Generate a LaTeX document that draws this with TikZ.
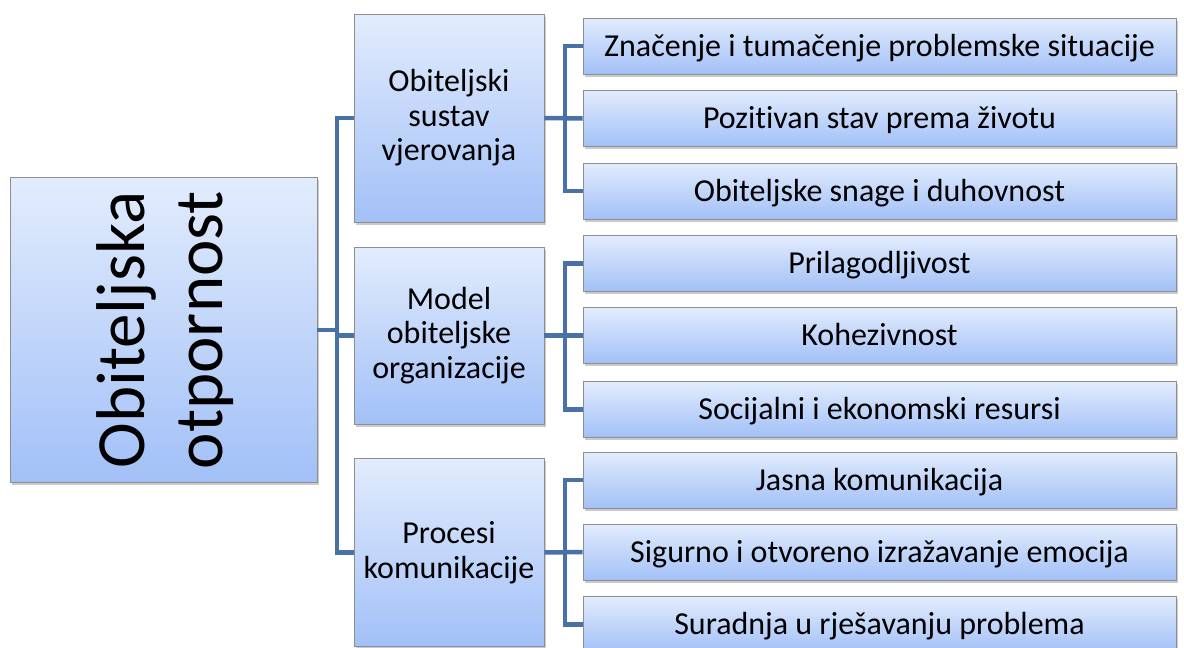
\documentclass[tikz,border=0pt]{standalone}
\usepackage{fontspec}
\setmainfont{Carlito}[Ligatures=NoCommon]
\usetikzlibrary{shadows}
\definecolor{linkc}{HTML}{4A70A8}
\definecolor{topc}{HTML}{E2ECFD}
\definecolor{botc}{HTML}{A2C0F7}
\definecolor{edgec}{HTML}{8E8E8E}
\tikzset{
  boxbase/.style={draw=edgec, line width=0.8pt, top color=topc, bottom color=botc,
    inner sep=0pt, align=center, text=black,
    drop shadow={shadow xshift=1.5pt, shadow yshift=-2.5pt, opacity=0.35, fill=black!60}},
  rootbox/.style={boxbase, minimum width=307pt, minimum height=305pt},
  midbox/.style={boxbase, minimum width=190pt, font=\fontsize{32}{34.5}\selectfont},
  leafbox/.style={boxbase, minimum width=593pt, minimum height=56pt, text height=20.6pt, text depth=0pt, font=\fontsize{32}{34}\selectfont},
  link/.style={draw=linkc, line width=4.5pt, line cap=butt, line join=miter}
}
\begin{document}
\begin{tikzpicture}[x=1pt, y=-1pt]
\useasboundingbox (0,0) rectangle (1184,648);
% root
\node[rootbox] (root) at (163.5,329.5) {};
\node[rotate=90, font=\fontsize{69}{78}\selectfont, align=center, inner sep=0pt] (roottxt) at (165,330) {Obiteljska\\otpornost};
% mid boxes
\node[midbox, minimum height=208pt] (m1) at (449,118) {Obiteljski\\sustav\\vjerovanja};
\node[midbox, minimum height=177pt] (m2) at (449,335.5) {Model\\obiteljske\\organizacije};
\node[midbox, minimum height=188pt] (m3) at (449,552.5) {Procesi\\komunikacije};
% leaves
\node[leafbox] (l1) at (879.5,46) {Značenje i tumačenje problemske situacije};
\node[leafbox] (l2) at (879.5,118.5) {Pozitivan stav prema životu};
\node[leafbox] (l3) at (879.5,191) {Obiteljske snage i duhovnost};
\node[leafbox] (l4) at (879.5,263.5) {Prilagodljivost};
\node[leafbox] (l5) at (879.5,335.5) {Kohezivnost};
\node[leafbox] (l6) at (879.5,409.5) {Socijalni i ekonomski resursi};
\node[leafbox] (l7) at (879.5,480) {Jasna komunikacija};
\node[leafbox] (l8) at (879.5,552) {Sigurno i otvoreno izražavanje emocija};
\node[leafbox] (l9) at (879.5,624.5) {Suradnja u rješavanju problema};
% connectors root -> mid
\coordinate (tr) at (337,330);
\draw[link] (root.east |- tr) -- (tr);
\draw[link] (m1.west) -| (tr) |- (m3.west);
\draw[link] (tr |- m2.west) -- (m2.west);
% connectors mid -> leaves
\coordinate (b1) at (565,118);
\draw[link] (m1.east) -- (l2.west);
\draw[link] (l1.west) -| (b1) |- (l3.west);
\coordinate (b2) at (565,335.5);
\draw[link] (m2.east) -- (l5.west);
\draw[link] (l4.west) -| (b2) |- (l6.west);
\coordinate (b3) at (565,552);
\draw[link] (m3.east) -- (l8.west);
\draw[link] (l7.west) -| (b3) |- (l9.west);
\end{tikzpicture}
\end{document}
